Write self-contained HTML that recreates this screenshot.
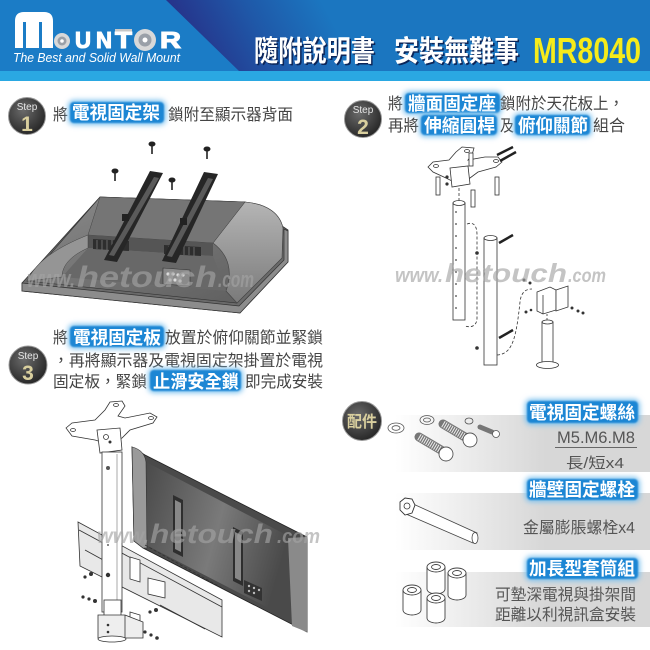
<!DOCTYPE html>
<html><head><meta charset="utf-8">
<style>
html,body{margin:0;padding:0;background:#fff;}
svg{display:block;}
text{font-family:"Liberation Sans","Noto Sans CJK TC",sans-serif;}
.t{fill:#444;font-size:16px;}
.h{fill:#fff;font-size:18px;font-weight:bold;}
.ln{fill:none;stroke:#333;stroke-width:0.8;}
.lw{fill:#fff;stroke:#333;stroke-width:0.8;}
.wm{fill:#a4a4a4;opacity:0.64;font-weight:bold;font-style:italic;}
.lg{font-size:23px;font-weight:bold;fill:#fff;stroke:#fff;stroke-width:1.1;}
</style></head><body>
<svg width="650" height="650" viewBox="0 0 650 650" xmlns="http://www.w3.org/2000/svg">
<defs>
 <linearGradient id="hdr" x1="190" y1="45" x2="310" y2="-20" gradientUnits="userSpaceOnUse">
  <stop offset="0" stop-color="#26338a"/>
  <stop offset="0.5" stop-color="#1f58a8"/>
  <stop offset="1" stop-color="#1b76c0"/>
 </linearGradient>
 <radialGradient id="badge" cx="0.4" cy="0.35" r="0.75">
  <stop offset="0" stop-color="#6a6a6a"/>
  <stop offset="1" stop-color="#1f1f1f"/>
 </radialGradient>
 <filter id="b3" x="-30%" y="-50%" width="160%" height="200%"><feGaussianBlur stdDeviation="2.6"/></filter>
 <filter id="b1" x="-20%" y="-40%" width="140%" height="180%"><feGaussianBlur stdDeviation="0.9"/></filter>
 <linearGradient id="panel" x1="395" y1="0" x2="545" y2="0" gradientUnits="userSpaceOnUse">
  <stop offset="0" stop-color="#ffffff"/><stop offset="1" stop-color="#d7d7d7"/>
 </linearGradient>
 <linearGradient id="house" x1="0" y1="0" x2="1" y2="1">
  <stop offset="0" stop-color="#8a8a8a"/><stop offset="1" stop-color="#5c5c5c"/>
 </linearGradient>
 <linearGradient id="rside" x1="0" y1="0" x2="0" y2="1">
  <stop offset="0" stop-color="#b5b5b5"/><stop offset="1" stop-color="#7a7a7a"/>
 </linearGradient>
 <linearGradient id="mon3" x1="0" y1="0" x2="1" y2="0.3">
  <stop offset="0" stop-color="#4a4a4a"/><stop offset="0.55" stop-color="#7a7a7a"/><stop offset="1" stop-color="#4a4a4a"/>
 </linearGradient>
</defs>

<!-- HEADER -->
<rect x="0" y="0" width="650" height="72" fill="#1b7cc6"/>
<polygon points="166,0 650,0 650,72 240,72" fill="url(#hdr)"/>
<rect x="0" y="71" width="650" height="10" fill="#2aa8e2"/>

<!-- logo -->
<path d="M15,48 L15,21 Q15,12 24,12 L44,12 Q53,12 53,21 L53,48 L42,48 L42,22 L39,22 L39,48 L26,48 L26,22 L23,22 L23,48 Z" fill="#fff"/>
<circle cx="62" cy="41" r="8" fill="#d8d8d8"/>
<circle cx="62" cy="41" r="4.5" fill="#9aa0a8"/>
<circle cx="62" cy="41" r="1.8" fill="#fff"/>
<text class="lg" x="75" y="48" textLength="16" lengthAdjust="spacingAndGlyphs">U</text>
<text class="lg" x="96" y="48" textLength="16" lengthAdjust="spacingAndGlyphs">N</text>
<rect x="115" y="29" width="17" height="2.5" fill="#c8c8c8"/>
<text class="lg" x="115" y="48" textLength="17" lengthAdjust="spacingAndGlyphs">T</text>
<circle cx="145" cy="40" r="11" fill="#d8d8d8"/>
<circle cx="145" cy="40" r="6.5" fill="#9aa0a8"/>
<circle cx="145" cy="40" r="2.5" fill="#fff"/>
<text class="lg" x="160" y="48" textLength="21" lengthAdjust="spacingAndGlyphs">R</text>
<text x="13" y="62" font-size="13" font-style="italic" fill="#fff" textLength="167" lengthAdjust="spacingAndGlyphs">The Best and Solid Wall Mount</text>

<!-- title -->
<text x="255.5" y="62.5" font-size="29" font-weight="bold" fill="#0c2558" textLength="121" lengthAdjust="spacingAndGlyphs">隨附說明書</text>
<text x="395.5" y="62.5" font-size="29" font-weight="bold" fill="#0c2558" textLength="125" lengthAdjust="spacingAndGlyphs">安裝無難事</text>
<text x="254" y="61" font-size="29" font-weight="bold" fill="#fff" textLength="121" lengthAdjust="spacingAndGlyphs">隨附說明書</text>
<text x="394" y="61" font-size="29" font-weight="bold" fill="#fff" textLength="125" lengthAdjust="spacingAndGlyphs">安裝無難事</text>
<text x="533" y="63" font-size="36" font-weight="bold" fill="#f6eb1a" textLength="108" lengthAdjust="spacingAndGlyphs">MR8040</text>

<!-- STEP 1 text -->
<circle cx="27" cy="116" r="18.5" fill="url(#badge)" stroke="#999" stroke-width="1"/>
<text x="27" y="110" font-size="10" fill="#e6e6e6" text-anchor="middle">Step</text>
<text x="27" y="131" font-size="21" font-weight="bold" fill="#d9cf9e" text-anchor="middle">1</text>
<text class="t" x="53" y="120" textLength="15" lengthAdjust="spacingAndGlyphs">將</text>
<rect x="68" y="100" width="98" height="25" rx="6" fill="#7fc2ef" filter="url(#b3)"/>
<rect x="70" y="102" width="94" height="21" rx="4" fill="#1f86d4" filter="url(#b1)"/>
<text class="h" x="72" y="119" textLength="88" lengthAdjust="spacingAndGlyphs">電視固定架</text>
<text class="t" x="168" y="120" textLength="125" lengthAdjust="spacingAndGlyphs">鎖附至顯示器背面</text>

<!-- STEP 2 text -->
<circle cx="363" cy="119" r="18.5" fill="url(#badge)" stroke="#999" stroke-width="1"/>
<text x="363" y="113" font-size="10" fill="#e6e6e6" text-anchor="middle">Step</text>
<text x="363" y="134" font-size="21" font-weight="bold" fill="#d9cf9e" text-anchor="middle">2</text>
<text class="t" x="388" y="109" textLength="15" lengthAdjust="spacingAndGlyphs">將</text>
<rect x="403" y="91" width="99" height="24" rx="6" fill="#7fc2ef" filter="url(#b3)"/>
<rect x="405" y="93" width="95" height="20" rx="4" fill="#1f86d4" filter="url(#b1)"/>
<text class="h" x="408" y="110" textLength="88" lengthAdjust="spacingAndGlyphs">牆面固定座</text>
<text class="t" x="500" y="109" textLength="124" lengthAdjust="spacingAndGlyphs">鎖附於天花板上，</text>
<text class="t" x="388" y="131" textLength="31" lengthAdjust="spacingAndGlyphs">再將</text>
<rect x="419" y="113" width="80" height="24" rx="6" fill="#7fc2ef" filter="url(#b3)"/>
<rect x="421" y="115" width="76" height="20" rx="4" fill="#1f86d4" filter="url(#b1)"/>
<text class="h" x="424" y="132" textLength="71" lengthAdjust="spacingAndGlyphs">伸縮圓桿</text>
<text class="t" x="500" y="131" textLength="14" lengthAdjust="spacingAndGlyphs">及</text>
<rect x="513" y="113" width="79" height="24" rx="6" fill="#7fc2ef" filter="url(#b3)"/>
<rect x="515" y="115" width="75" height="20" rx="4" fill="#1f86d4" filter="url(#b1)"/>
<text class="h" x="518" y="132" textLength="70" lengthAdjust="spacingAndGlyphs">俯仰關節</text>
<text class="t" x="593" y="131" textLength="32" lengthAdjust="spacingAndGlyphs">組合</text>

<!-- STEP 3 text -->
<circle cx="28" cy="365" r="19" fill="url(#badge)" stroke="#999" stroke-width="1"/>
<text x="28" y="359" font-size="10" fill="#e6e6e6" text-anchor="middle">Step</text>
<text x="28" y="380" font-size="21" font-weight="bold" fill="#d9cf9e" text-anchor="middle">3</text>
<text class="t" x="53" y="343" textLength="15" lengthAdjust="spacingAndGlyphs">將</text>
<rect x="68" y="324" width="98" height="25" rx="6" fill="#7fc2ef" filter="url(#b3)"/>
<rect x="70" y="326" width="94" height="21" rx="4" fill="#1f86d4" filter="url(#b1)"/>
<text class="h" x="73" y="344" textLength="88" lengthAdjust="spacingAndGlyphs">電視固定板</text>
<text class="t" x="165" y="343" textLength="158" lengthAdjust="spacingAndGlyphs">放置於俯仰關節並緊鎖</text>
<text class="t" x="53" y="366" textLength="270" lengthAdjust="spacingAndGlyphs">，再將顯示器及電視固定架掛置於電視</text>
<text class="t" x="53" y="387" textLength="94" lengthAdjust="spacingAndGlyphs">固定板，緊鎖</text>
<rect x="148" y="368" width="95" height="25" rx="6" fill="#7fc2ef" filter="url(#b3)"/>
<rect x="150" y="370" width="91" height="21" rx="4" fill="#1f86d4" filter="url(#b1)"/>
<text class="h" x="153" y="388" textLength="86" lengthAdjust="spacingAndGlyphs">止滑安全鎖</text>
<text class="t" x="245" y="387" textLength="78" lengthAdjust="spacingAndGlyphs">即完成安裝</text>

<!-- STEP 1 MONITOR -->
<polygon points="22,283 100,197 245,202 282,226 288,230 288,262 240,313 22,291" fill="#6a6a6a" stroke="#333" stroke-width="0.8"/>
<path d="M27,281 L100,197 L245,202 C268,204 280,214 283,228 L282,258 L237,303 Z" fill="url(#house)" stroke="#333" stroke-width="0.6"/>
<path d="M213,243 L245,202 C268,204 280,214 283,228 L282,258 L237,303 L226,291 C233,272 229,255 213,243 Z" fill="url(#rside)" stroke="#444" stroke-width="0.6"/>
<polygon points="100,197 245,202 213,243 88,235" fill="#757575" stroke="#444" stroke-width="0.5"/>
<polygon points="88,235 213,243 213,256 88,248" fill="#555"/>
<polygon points="88,248 213,256 226,291 62,277" fill="#686868"/>
<path d="M27,281 C35,265 50,250 88,235 L88,248 C70,256 62,266 62,277 Z" fill="#959595" stroke="#444" stroke-width="0.5"/>
<polygon points="93,239 129,241 129,251 93,249" fill="#2e2e2e"/>
<polygon points="164,245 201,247 201,256 164,254" fill="#2e2e2e"/>
<g stroke="#777" stroke-width="0.8">
 <line x1="97" y1="240" x2="97" y2="249"/><line x1="102" y1="240" x2="102" y2="250"/><line x1="107" y1="240" x2="107" y2="250"/><line x1="112" y1="240" x2="112" y2="250"/><line x1="117" y1="241" x2="117" y2="250"/><line x1="122" y1="241" x2="122" y2="251"/>
 <line x1="169" y1="246" x2="169" y2="254"/><line x1="174" y1="246" x2="174" y2="255"/><line x1="179" y1="246" x2="179" y2="255"/><line x1="184" y1="246" x2="184" y2="255"/><line x1="189" y1="247" x2="189" y2="255"/><line x1="194" y1="247" x2="194" y2="256"/>
</g>
<polygon points="22,283 239,306 284,260 284,229 288,231 288,262 240,313 22,291" fill="#8c8c8c" stroke="#333" stroke-width="0.7"/>
<polygon points="163,268 190,270 190,286 163,284" fill="#8a8a8a" stroke="#333" stroke-width="0.6"/>
<g fill="#ddd"><circle cx="168" cy="274" r="1.6"/><circle cx="173" cy="274" r="1.6"/><circle cx="178" cy="275" r="1.6"/><circle cx="183" cy="275" r="1.6"/><circle cx="170" cy="280" r="1.6"/><circle cx="175" cy="280" r="1.6"/><circle cx="180" cy="281" r="1.6"/></g>
<!-- brackets -->
<polygon points="150,171 163,173 117,262 104,260" fill="#262626"/>
<polygon points="154,177 159,178 114,256 109,255" fill="#5a5a5a"/>
<polygon points="204,172 218,174 176,263 162,261" fill="#262626"/>
<polygon points="208,178 213,179 172,257 167,256" fill="#5a5a5a"/>
<rect x="122" y="214" width="7" height="7" fill="#222"/>
<rect x="180" y="218" width="7" height="7" fill="#222"/>
<!-- screws -->
<g fill="#222" stroke="#222">
 <ellipse cx="152" cy="144" rx="3" ry="2"/><line x1="152" y1="144" x2="152" y2="154" stroke-width="1.6"/>
 <ellipse cx="207" cy="149" rx="3" ry="2"/><line x1="207" y1="149" x2="207" y2="159" stroke-width="1.6"/>
 <ellipse cx="115" cy="171" rx="3" ry="2"/><line x1="115" y1="171" x2="115" y2="181" stroke-width="1.6"/>
 <ellipse cx="172" cy="180" rx="3" ry="2"/><line x1="172" y1="180" x2="172" y2="190" stroke-width="1.6"/>
</g>
<text class="wm" x="27" y="287" font-size="24" textLength="48" lengthAdjust="spacingAndGlyphs">www.</text>
<text class="wm" x="77" y="287" font-size="30" textLength="140" lengthAdjust="spacingAndGlyphs">hetouch</text>
<text class="wm" x="218" y="287" font-size="22" textLength="36" lengthAdjust="spacingAndGlyphs">.com</text>

<!-- STEP 2 ILLUSTRATION -->
<polygon points="428,167 433,162 449,160 456,152 462,147 474,148 472,155 468,160 485,157 498,157 502,162 496,167 478,172 470,178 456,183 446,178 433,172" class="lw"/>
<ellipse cx="436" cy="166" rx="2.5" ry="1.5" class="ln"/><ellipse cx="496" cy="161" rx="2.5" ry="1.5" class="ln"/><ellipse cx="467" cy="151" rx="2.5" ry="1.5" class="ln"/><ellipse cx="459" cy="178" rx="2.5" ry="1.5" class="ln"/>
<polygon points="450,168 468,166 470,184 452,187" class="lw"/>
<line x1="497" y1="155" x2="513" y2="147" stroke="#222" stroke-width="2.5"/>
<line x1="500" y1="161" x2="516" y2="152" stroke="#222" stroke-width="2.5"/>
<rect x="436" y="177" width="4" height="18" class="lw"/><rect x="471" y="190" width="4" height="17" class="lw"/><rect x="495" y="177" width="4" height="18" class="lw"/><rect x="469" y="153" width="4" height="13" class="lw"/>
<circle cx="447" cy="177" r="1.6" fill="#333"/><circle cx="447" cy="184" r="1.6" fill="#333"/>
<line x1="459" y1="188" x2="459" y2="202" class="ln" stroke-dasharray="3,2"/>
<rect x="453" y="203" width="12" height="117" class="lw"/>
<ellipse cx="459" cy="203" rx="6" ry="2.5" class="lw"/>
<g fill="#444"><circle cx="456" cy="212" r="0.9"/><circle cx="456" cy="224" r="0.9"/><circle cx="456" cy="236" r="0.9"/><circle cx="456" cy="248" r="0.9"/><circle cx="456" cy="260" r="0.9"/><circle cx="456" cy="272" r="0.9"/><circle cx="456" cy="284" r="0.9"/><circle cx="456" cy="296" r="0.9"/><circle cx="456" cy="308" r="0.9"/></g>
<path d="M467,224 C475,221 477,228 477,235 L477,318 C477,326 471,328 465,326" class="ln" stroke-dasharray="3,2"/>
<rect x="484" y="238" width="13" height="127" class="lw"/>
<ellipse cx="490.5" cy="238" rx="6.5" ry="2.5" class="lw"/>
<line x1="499" y1="243" x2="513" y2="235" stroke="#222" stroke-width="2.5"/>
<line x1="499" y1="338" x2="513" y2="330" stroke="#222" stroke-width="2.5"/>
<circle cx="477" cy="253" r="1.8" fill="#333"/><circle cx="477" cy="348" r="1.8" fill="#333"/>
<path d="M497,355 C512,354 516,340 520,302 C521,293 525,289 532,289" class="ln" stroke-dasharray="3,2"/>
<polygon points="537,292 550,287 556,290 556,310 543,314 537,311" class="lw"/>
<polygon points="556,290 568,286 568,307 556,311" class="lw"/>
<line x1="543" y1="295" x2="543" y2="314" class="ln"/>
<g fill="#333"><circle cx="524" cy="280" r="1.5"/><circle cx="530" cy="283" r="1.5"/><circle cx="526" cy="312" r="1.5"/><circle cx="531" cy="310" r="1.3"/><circle cx="572" cy="308" r="1.5"/><circle cx="578" cy="311" r="1.5"/><circle cx="583" cy="313" r="1.5"/></g>
<line x1="547" y1="314" x2="547" y2="321" class="ln" stroke-dasharray="2,2"/>
<rect x="542" y="322" width="11" height="42" class="lw"/>
<ellipse cx="547.5" cy="322" rx="5.5" ry="2" class="lw"/>
<ellipse cx="547.5" cy="365" rx="11" ry="3.5" class="lw"/>
<text class="wm" x="395" y="282" font-size="20" textLength="48" lengthAdjust="spacingAndGlyphs">www.</text>
<text class="wm" x="445" y="282" font-size="26" textLength="122" lengthAdjust="spacingAndGlyphs">hetouch</text>
<text class="wm" x="568" y="282" font-size="19" textLength="38" lengthAdjust="spacingAndGlyphs">.com</text>

<!-- STEP 3 ILLUSTRATION -->
<polygon points="132,447 145,455 307,537 307,632 143,548 134,541" fill="#4a4a4a" stroke="#222" stroke-width="0.8"/>
<polygon points="146,462 296,540 296,622 146,545" fill="url(#mon3)"/>
<path d="M132,447 C140,449 145,454 146,462 L147,548 L143,548 L134,541 Z" fill="#9a9a9a" stroke="#333" stroke-width="0.6"/>
<path d="M288,538 L307,537 L307,632 L292,626 Z" fill="#8a8a8a"/>
<polygon points="173,495 183,500 183,557 173,552" fill="#2e2e2e"/>
<polygon points="175,500 181,503 181,552 175,549" fill="#888"/>
<polygon points="233,527 243,532 243,586 233,581" fill="#2e2e2e"/>
<polygon points="235,532 241,535 241,581 235,578" fill="#888"/>
<polygon points="244,580 262,588 262,601 244,593" fill="#333"/>
<g fill="#bbb"><circle cx="249" cy="586" r="1.2"/><circle cx="254" cy="588" r="1.2"/><circle cx="259" cy="590" r="1.2"/><circle cx="249" cy="591" r="1.2"/><circle cx="254" cy="593" r="1.2"/></g>
<line x1="145" y1="545" x2="222" y2="588" class="ln" stroke-dasharray="3,2"/>
<!-- wall bar -->
<polygon points="78,522 222,600 222,637 80,566" fill="#e8e8e8" stroke="#333" stroke-width="0.8"/>
<line x1="79" y1="530" x2="222" y2="607" class="ln"/>
<line x1="85" y1="550" x2="105" y2="561" class="ln"/>
<line x1="160" y1="605" x2="205" y2="629" class="ln"/>
<polygon points="130,557 140,560 140,582 130,579" class="lw"/>
<polygon points="148,578 165,582 165,598 148,594" class="lw"/>
<polygon points="130,612 140,615 140,630 130,627" class="lw"/>
<!-- ceiling plate & pole -->
<polygon points="66,428 72,423 95,420 105,410 110,402 122,401 125,406 118,416 125,418 150,413 157,417 153,423 130,430 122,438 105,443 95,440 72,436" class="lw"/>
<ellipse cx="73" cy="430" rx="2.5" ry="1.5" class="ln"/><ellipse cx="151" cy="418" rx="2.5" ry="1.5" class="ln"/><ellipse cx="116" cy="405" rx="2.5" ry="1.5" class="ln"/>
<polygon points="97,430 120,428 122,450 100,453" class="lw"/>
<circle cx="106" cy="437" r="2.5" class="ln"/><circle cx="110" cy="442" r="1.5" fill="#333"/>
<rect x="102" y="452" width="20" height="160" class="lw"/>
<line x1="117" y1="454" x2="117" y2="610" stroke="#aaa" stroke-width="1"/>
<circle cx="108" cy="468" r="2" fill="#555"/>
<circle cx="108" cy="575" r="2.2" fill="#333"/>
<circle cx="108" cy="545" r="0.9" fill="#333"/>
<rect x="104" y="600" width="17" height="22" class="lw"/>
<polygon points="98,615 125,615 143,622 143,638 98,638" fill="#eee" stroke="#333" stroke-width="0.8"/>
<line x1="125" y1="615" x2="125" y2="638" class="ln"/>
<circle cx="108" cy="625" r="1.3" fill="#333"/><circle cx="108" cy="632" r="1.3" fill="#333"/>
<ellipse cx="112" cy="639" rx="14" ry="3" class="lw"/>
<g fill="#333"><circle cx="85" cy="577" r="1.6"/><circle cx="91" cy="574" r="2"/><circle cx="83" cy="597" r="1.6"/><circle cx="89" cy="599" r="1.6"/><circle cx="95" cy="601" r="2"/><circle cx="150" cy="612" r="1.6"/><circle cx="156" cy="610" r="2"/><circle cx="145" cy="632" r="1.6"/><circle cx="151" cy="635" r="1.6"/><circle cx="157" cy="638" r="1.8"/></g>
<text class="wm" x="97" y="543" font-size="21" textLength="52" lengthAdjust="spacingAndGlyphs">www.</text>
<text class="wm" x="150" y="543" font-size="27" textLength="123" lengthAdjust="spacingAndGlyphs">hetouch</text>
<text class="wm" x="277" y="543" font-size="20" textLength="43" lengthAdjust="spacingAndGlyphs">.com</text>

<!-- ACCESSORIES -->
<rect x="395" y="415" width="255" height="57" fill="url(#panel)"/>
<rect x="395" y="493" width="255" height="57" fill="url(#panel)"/>
<rect x="395" y="572" width="255" height="55" fill="url(#panel)"/>

<circle cx="362" cy="421" r="19.5" fill="url(#badge)" stroke="#999" stroke-width="1"/>
<text x="347" y="427" font-size="16" font-weight="bold" fill="#d9cf9e" textLength="30" lengthAdjust="spacingAndGlyphs">配件</text>

<rect x="525" y="399" width="115" height="26" rx="6" fill="#7fc2ef" filter="url(#b3)"/>
<rect x="527" y="401" width="111" height="22" rx="4" fill="#1f86d4" filter="url(#b1)"/>
<text class="h" x="529" y="419" textLength="106" lengthAdjust="spacingAndGlyphs">電視固定螺絲</text>
<text x="557" y="443" font-size="16.5" fill="#555" textLength="78" lengthAdjust="spacingAndGlyphs">M5.M6.M8</text>
<line x1="555" y1="447.5" x2="637" y2="447.5" stroke="#666" stroke-width="1"/>
<text x="566" y="468" font-size="15" fill="#555" textLength="58" lengthAdjust="spacingAndGlyphs">長/短x4</text>

<rect x="525" y="477" width="115" height="25" rx="6" fill="#7fc2ef" filter="url(#b3)"/>
<rect x="527" y="479" width="111" height="21" rx="4" fill="#1f86d4" filter="url(#b1)"/>
<text class="h" x="529" y="496" textLength="106" lengthAdjust="spacingAndGlyphs">牆壁固定螺栓</text>
<text x="523" y="533" font-size="16" fill="#555" textLength="112" lengthAdjust="spacingAndGlyphs">金屬膨脹螺栓x4</text>

<rect x="525" y="556" width="115" height="25" rx="6" fill="#7fc2ef" filter="url(#b3)"/>
<rect x="527" y="558" width="111" height="21" rx="4" fill="#1f86d4" filter="url(#b1)"/>
<text class="h" x="529" y="575" textLength="106" lengthAdjust="spacingAndGlyphs">加長型套筒組</text>
<text x="495" y="600" font-size="16" fill="#555" textLength="141" lengthAdjust="spacingAndGlyphs">可墊深電視與掛架間</text>
<text x="495" y="620" font-size="16" fill="#555" textLength="141" lengthAdjust="spacingAndGlyphs">距離以利視訊盒安裝</text>

<!-- screws art -->
<g stroke="#555" stroke-width="0.8" fill="none">
 <ellipse cx="396" cy="428" rx="8" ry="5"/><ellipse cx="396" cy="428" rx="4" ry="2.3"/>
 <ellipse cx="427" cy="420" rx="7" ry="4.5"/><ellipse cx="427" cy="420" rx="3.5" ry="2"/>
 <ellipse cx="469" cy="421" rx="4" ry="3"/>
</g>
<line x1="419" y1="437" x2="441" y2="450" stroke="#777" stroke-width="9" stroke-linecap="round"/>
<line x1="419" y1="437" x2="441" y2="450" stroke="#eee" stroke-width="7" stroke-dasharray="1,1.3"/>
<circle cx="446" cy="454" r="7" fill="#fff" stroke="#555" stroke-width="0.9"/>
<line x1="443" y1="424" x2="465" y2="437" stroke="#777" stroke-width="9" stroke-linecap="round"/>
<line x1="443" y1="424" x2="465" y2="437" stroke="#eee" stroke-width="7" stroke-dasharray="1,1.3"/>
<circle cx="470" cy="440" r="7" fill="#fff" stroke="#555" stroke-width="0.9"/>
<line x1="480" y1="427" x2="492" y2="432" stroke="#777" stroke-width="5" stroke-linecap="round"/>
<circle cx="496" cy="434" r="3.5" fill="#fff" stroke="#555" stroke-width="0.8"/>

<!-- anchor bolt -->
<polygon points="411,503 477,533 473,543 406,514" fill="#fff" stroke="#444" stroke-width="0.8"/>
<polygon points="400,502 405,498 412,499 415,505 412,513 405,515 400,510" fill="#fff" stroke="#333" stroke-width="0.9"/>
<circle cx="407" cy="506" r="3" fill="none" stroke="#333" stroke-width="0.8"/>
<ellipse cx="475" cy="538" rx="3" ry="5.5" fill="#fff" stroke="#444" stroke-width="0.8"/>

<!-- spacers -->
<g fill="#fff" stroke="#444" stroke-width="0.9">
 <path d="M427,567 L427,589 A9,5 0 0 0 445,589 L445,567"/><ellipse cx="436" cy="567" rx="9" ry="5"/><ellipse cx="436" cy="567" rx="4.5" ry="2.5"/>
 <path d="M448,573 L448,595 A9,5 0 0 0 466,595 L466,573"/><ellipse cx="457" cy="573" rx="9" ry="5"/><ellipse cx="457" cy="573" rx="4.5" ry="2.5"/>
 <path d="M403,590 L403,610 A9,5 0 0 0 421,610 L421,590"/><ellipse cx="412" cy="590" rx="9" ry="5"/><ellipse cx="412" cy="590" rx="4.5" ry="2.5"/>
 <path d="M427,598 L427,618 A9,5 0 0 0 445,618 L445,598"/><ellipse cx="436" cy="598" rx="9" ry="5"/><ellipse cx="436" cy="598" rx="4.5" ry="2.5"/>
</g>
</svg>
</body></html>
